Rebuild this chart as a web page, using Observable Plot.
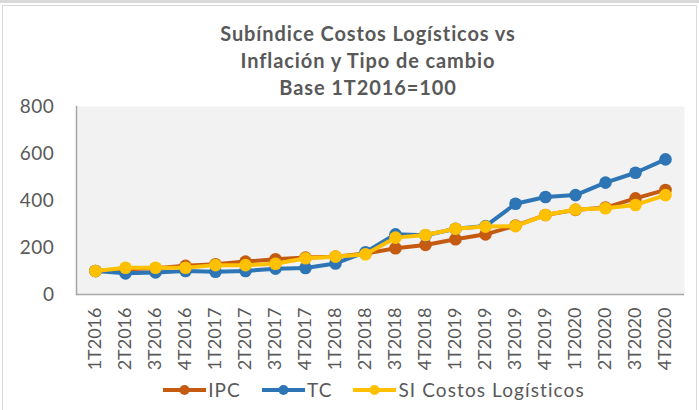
<!DOCTYPE html>
<html><head><meta charset="utf-8">
<script src="https://cdn.jsdelivr.net/npm/d3@7"></script>
<script src="https://cdn.jsdelivr.net/npm/@observablehq/plot@0.6"></script>
<style>
body{margin:0;background:#fff;}
#wrap{position:relative;width:699px;height:410px;overflow:hidden;background:#fff;font-family:Lato,"Open Sans",sans-serif;color:#595959;}
#topband{position:absolute;left:0;top:0;width:699px;height:3px;background:#d9d9d9;}
#border{position:absolute;left:2px;top:5px;width:695px;height:420px;border:1px solid #d9d9d9;box-sizing:border-box;}
#title{position:absolute;top:20px;left:0;width:736px;text-align:center;font-weight:bold;font-size:20px;letter-spacing:0.9px;line-height:27px;color:#595959;}
#chart{position:absolute;left:0;top:0;}
#legend{position:absolute;top:379px;left:0;width:748px;display:flex;justify-content:center;gap:21px;font-size:19px;letter-spacing:1.1px;line-height:22px;}
#legend .item{display:flex;align-items:center;gap:2px;}
.yax text{letter-spacing:0.6px;}
</style></head>
<body>
<div id="wrap">
  <div id="topband"></div>
  <div id="border"></div>
  <div id="chart"></div>
  <div id="title">Subíndice Costos Logísticos vs<br>Inflación y Tipo de cambio<br>Base 1T2016=100</div>
  <div id="legend"></div>
</div>
<script>
const quarters = ["1T2016","2T2016","3T2016","4T2016","1T2017","2T2017","3T2017","4T2017","1T2018","2T2018","3T2018","4T2018","1T2019","2T2019","3T2019","4T2019","1T2020","2T2020","3T2020","4T2020"];
const ipc = [100,107,112,122,129,140,150,157,161,174,197,211,235,256,293,338,360,370,409,445];
const tc  = [100,90,94,100,97,100,110,113,132,180,256,252,280,291,386,415,423,476,518,575];
const si  = [100,114,114,114,125,125,131,154,161,171,242,253,280,289,291,338,362,367,381,423];
const seriesNames = ["IPC","TC","SI Costos Logísticos"];
const seriesColors = ["#C55A11","#2E75B6","#FFC000"];
const yTicks = [0,200,400,600,800];

const seriesValues = [ipc, tc, si];
const rows = seriesNames.flatMap((name, s) => quarters.map((q, i) => ({q, v: seriesValues[s][i], name})));

const marks = [
  Plot.frame({fill:"#f2f2f2", stroke:null}),
  Plot.frame({anchor:"left", stroke:"#a6a6a6", strokeWidth:1.5}),
  Plot.ruleY([0], {stroke:"#a6a6a6", strokeWidth:1.5}),
  Plot.axisY({ticks:yTicks, tickSize:0, tickPadding:22, fontSize:19, label:null, className:"yax"}),
  Plot.axisX({tickRotate:-90, tickSize:0, tickPadding:13, fontSize:18, label:null})
];
seriesNames.forEach((name, s) => {
  const d = rows.filter(r => r.name === name);
  marks.push(Plot.line(d, {x:"q", y:"v", stroke:seriesColors[s], strokeWidth:4}));
  marks.push(Plot.dot(d, {x:"q", y:"v", fill:seriesColors[s], r:6.3}));
});

const chart = Plot.plot({
  width:699, height:410,
  marginTop:106, marginBottom:116, marginLeft:76, marginRight:15,
  style:{background:"transparent", color:"#595959", fontFamily:"Lato, sans-serif"},
  x:{type:"point", domain:quarters, padding:0.5},
  y:{domain:[0,800]},
  marks
});
document.getElementById("chart").append(chart);

const legend = document.getElementById("legend");
seriesNames.forEach((name, s) => {
  const item = document.createElement("div");
  item.className = "item";
  item.innerHTML = `<svg width="43" height="14"><line x1="0" x2="43" y1="7" y2="7" stroke="${seriesColors[s]}" stroke-width="4"/><circle cx="21.5" cy="7" r="5" fill="${seriesColors[s]}"/></svg><span>${name}</span>`;
  legend.append(item);
});
</script>
</body></html>
